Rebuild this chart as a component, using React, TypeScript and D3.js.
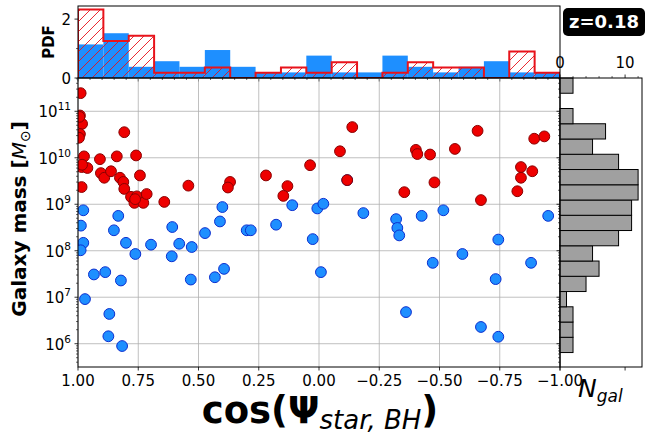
import React from "react";
import * as d3 from "d3";

// ---- data ----
const redCos = [0.989, 0.992, 0.983, 0.992, 0.996, 0.808, 0.975, 0.909, 0.839, 0.759, 0.985, 0.961, 0.905, 0.891, 0.863, 0.826, 0.812, 0.808, 0.743, 0.985, 0.780, 0.766, 0.756, 0.729, 0.715, 0.642, 0.542, 0.994, 0.983, 0.763, 0.369, 0.378, 0.220, 0.131, 0.148, 0.037, -0.138, -0.087, -0.117, -0.402, -0.408, -0.461, -0.354, -0.479, -0.564, -0.658, -0.672, -0.893, -0.935, -0.838, -0.885, -0.838, -0.823];
const redLogMass = [11.39, 10.91, 10.73, 10.51, 10.43, 10.55, 10.03, 9.97, 10.03, 10.05, 9.80, 9.78, 9.67, 9.57, 9.71, 9.57, 9.48, 9.33, 9.62, 9.37, 9.16, 9.03, 9.17, 9.03, 9.22, 9.05, 9.40, 10.88, 9.85, 9.11, 9.48, 9.36, 9.62, 9.39, 9.18, 9.84, 10.66, 10.14, 9.52, 10.17, 10.08, 10.07, 9.26, 9.47, 10.19, 10.58, 9.09, 10.41, 10.46, 9.80, 9.71, 9.57, 9.28];

const blueCos = [0.978, 0.833, 0.988, 0.851, 0.609, 0.978, 0.989, 0.801, 0.762, 0.697, 0.611, 0.580, 0.528, 0.934, 0.887, 0.822, 0.532, 0.971, 0.870, 0.874, 0.817, 0.401, 0.411, 0.473, 0.300, 0.283, 0.178, 0.111, 0.007, 0.026, 0.432, 0.394, -0.018, -0.184, -0.320, -0.325, -0.333, -0.426, -0.008, -0.472, -0.361, -0.516, -0.744, -0.951, -0.595, -0.880, -0.733, -0.672, -0.744, -0.117];
const blueLogMass = [8.87, 8.75, 8.54, 8.44, 8.51, 8.17, 8.01, 8.17, 7.93, 8.13, 7.88, 8.15, 8.08, 7.49, 7.54, 7.36, 7.38, 6.96, 6.64, 6.16, 5.95, 8.94, 8.63, 8.38, 8.44, 8.44, 8.56, 8.98, 8.91, 8.25, 7.43, 7.61, 9.01, 8.81, 8.68, 8.49, 8.33, 8.75, 7.54, 7.74, 6.68, 8.87, 8.24, 8.75, 7.93, 7.74, 7.39, 6.36, 6.15, 9.52];

// top histogram: counts per cos bin, from cos=1 (left) to cos=-1 (right)
const nCosBins = 19;
const blueCounts = [6, 8, 2, 3, 2, 5, 2, 1, 1, 4, 1, 1, 4, 2, 1, 2, 3, 1, 1];
const redCounts = [13, 7, 8, 1, 1, 2, 0, 1, 2, 1, 3, 0, 1, 3, 2, 2, 0, 5, 1];

// right histogram: N_gal per log-mass bin, from low mass to high mass
const massBinLo = 5.81;
const massBinHi = 11.716;
const nGalCounts = [2, 2, 2, 1, 4, 6, 5, 9, 11, 11, 12, 12, 9, 5, 7, 2, 0, 2];

const xTicks = [1, 0.75, 0.5, 0.25, 0, -0.25, -0.5, -0.75, -1];
const xTickLabels = ["1.00", "0.75", "0.50", "0.25", "0.00", "\u22120.25", "\u22120.50", "\u22120.75", "\u22121.00"];
const yTickExps = [6, 7, 8, 9, 10, 11];
const pdfTicks = [0, 2];
const nGalTicks = [0, 10];
const redshiftLabel = "z=0.18";

export default function App() {
  const W = 648, H = 432;
  const mL = 78, mR = 560, mT = 78, mB = 367;
  const tT = 6;
  const rR = 642;
  const font = "DejaVu Sans, sans-serif";

  const x = d3.scaleLinear().domain([1, -1]).range([mL, mR]);
  const y = d3.scaleLog().domain([Math.pow(10, 5.499), Math.pow(10, 11.716)]).range([mB, mT]);
  const yPdf = d3.scaleLinear().domain([0, 2.445]).range([mT, tT]);
  const xN = d3.scaleLinear().domain([0, 12.6]).range([mR, rR]);

  const binW = 2 / nCosBins;
  const edges = d3.range(nCosBins + 1).map((i) => 1 - i * binW);
  const nBlue = d3.sum(blueCounts);
  const nRed = d3.sum(redCounts);
  const blueDens = blueCounts.map((c) => c / (nBlue * binW));
  const redDens = redCounts.map((c) => c / (nRed * binW));

  let stepPts: [number, number][] = [[x(edges[0]), yPdf(0)]];
  redDens.forEach((d, i) => {
    stepPts.push([x(edges[i]), yPdf(d)]);
    stepPts.push([x(edges[i + 1]), yPdf(d)]);
  });
  stepPts.push([x(edges[nCosBins]), yPdf(0)]);
  const line = d3.line();
  const stepPath = line(stepPts) || "";

  const mStep = (massBinHi - massBinLo) / nGalCounts.length;

  const minorLog: number[] = [];
  for (let k = 5; k <= 11; k++) for (let m = 2; m <= 9; m++) {
    const v = m * Math.pow(10, k);
    const [a, b] = y.domain();
    if (v > a && v < b) minorLog.push(v);
  }
  const xMinor = d3.range(-1, 1.0001, 0.05).filter((v) => Math.abs(Math.round(v * 4) - v * 4) > 1e-6);
  const nMinor = [2, 4, 6, 8, 12];

  const tickStroke = { stroke: "black", strokeWidth: 0.8 };

  return (
    <svg width={W} height={H} style={{ position: "fixed", left: 0, top: 0, background: "white" }} fontFamily={font}>
      <defs>
        <clipPath id="mainClip"><rect x={mL} y={mT} width={mR - mL} height={mB - mT} /></clipPath>
        <clipPath id="topClip"><rect x={mL} y={tT} width={mR - mL} height={mT - tT} /></clipPath>
        <pattern id="hatch" patternUnits="userSpaceOnUse" width={10} height={10}>
          <path d="M-1,1 l2,-2 M0,10 l10,-10 M9,11 l2,-2" stroke="#e8131b" strokeWidth={0.9} />
        </pattern>
      </defs>
      <rect x={0} y={0} width={W} height={H} fill="white" />

      {/* ---------- top histogram ---------- */}
      <g clipPath="url(#topClip)">
        {blueDens.map((d, i) => (
          <rect key={"b" + i} x={x(edges[i])} y={yPdf(d)} width={x(edges[i + 1]) - x(edges[i])} height={yPdf(0) - yPdf(d)} fill="#1e8fff" />
        ))}
        <path d={stepPath + "Z"} fill="url(#hatch)" stroke="none" />
        <path d={stepPath} fill="none" stroke="#e8131b" strokeWidth={2} strokeLinejoin="miter" />
      </g>
      <rect x={mL} y={tT} width={mR - mL} height={mT - tT} fill="none" stroke="black" strokeWidth={1} />
      {pdfTicks.map((t) => (
        <g key={"pt" + t}>
          <line x1={mL - 3.5} x2={mL} y1={yPdf(t)} y2={yPdf(t)} {...tickStroke} />
          <text x={mL - 7} y={yPdf(t) + 5.5} fontSize={15} textAnchor="end">{t}</text>
        </g>
      ))}
      <line x1={mL - 2} x2={mL} y1={yPdf(1)} y2={yPdf(1)} stroke="black" strokeWidth={0.6} />
      {xMinor.map((v, i) => (
        <line key={"xm" + i} x1={x(v)} x2={x(v)} y1={mT} y2={mT + 2} stroke="black" strokeWidth={0.6} />
      ))}
      {xTicks.map((t) => (
        <line key={"xt" + t} x1={x(t)} x2={x(t)} y1={mT} y2={mT + 3.5} {...tickStroke} />
      ))}
      <text transform={`translate(54,${(tT + mT) / 2}) rotate(-90)`} fontSize={15} fontWeight="bold" textAnchor="middle">PDF</text>

      {/* ---------- main scatter ---------- */}
      {xTicks.map((t) => (
        <line key={"gx" + t} x1={x(t)} x2={x(t)} y1={mT} y2={mB} stroke="#b0b0b0" strokeWidth={0.8} />
      ))}
      {yTickExps.map((e) => (
        <line key={"gy" + e} x1={mL} x2={mR} y1={y(Math.pow(10, e))} y2={y(Math.pow(10, e))} stroke="#b0b0b0" strokeWidth={0.8} />
      ))}
      <g clipPath="url(#mainClip)">
        {blueCos.map((c, i) => (
          <circle key={"bc" + i} cx={x(c)} cy={y(Math.pow(10, blueLogMass[i]))} r={5.4} fill="#1e8fff" stroke="#0b2fd0" strokeWidth={1} />
        ))}
        {redCos.map((c, i) => (
          <circle key={"rc" + i} cx={x(c)} cy={y(Math.pow(10, redLogMass[i]))} r={5.4} fill="#ee0000" stroke="#8a0000" strokeWidth={1} />
        ))}
      </g>
      <rect x={mL} y={mT} width={mR - mL} height={mB - mT} fill="none" stroke="black" strokeWidth={1} />
      {xTicks.map((t, i) => (
        <g key={"xl" + t}>
          <line x1={x(t)} x2={x(t)} y1={mB} y2={mB + 3.5} {...tickStroke} />
          <text x={x(t)} y={mB + 19} fontSize={15} textAnchor="middle">{xTickLabels[i]}</text>
        </g>
      ))}
      {minorLog.map((v, i) => (
        <g key={"ym" + i}>
          <line x1={mL - 2} x2={mL} y1={y(v)} y2={y(v)} stroke="black" strokeWidth={0.6} />
          <line x1={mR - 2} x2={mR} y1={y(v)} y2={y(v)} stroke="black" strokeWidth={0.6} />
        </g>
      ))}
      {yTickExps.map((e) => (
        <g key={"yl" + e}>
          <line x1={mL - 3.5} x2={mL} y1={y(Math.pow(10, e))} y2={y(Math.pow(10, e))} {...tickStroke} />
          <line x1={mR - 3.5} x2={mR} y1={y(Math.pow(10, e))} y2={y(Math.pow(10, e))} {...tickStroke} />
          <text x={mL - 7} y={y(Math.pow(10, e)) + 6} fontSize={15} textAnchor="end">
            10<tspan fontSize={10.5} dy={-7}>{e}</tspan>
          </text>
        </g>
      ))}
      <text transform={`translate(26,219) rotate(-90)`} fontSize={20} fontWeight="bold" textAnchor="middle">
        Galaxy mass [<tspan fontStyle="italic" fontWeight="normal">M</tspan><tspan fontSize={14} fontWeight="normal" dy={4}>{"\u2299"}</tspan><tspan dy={-4}>]</tspan>
      </text>
      <text x={320} y={423} fontSize={37} fontWeight="bold" textAnchor="middle">
        cos(Ψ<tspan fontSize={26} fontStyle="italic" fontWeight="normal" dy={6}>star, BH</tspan><tspan dy={-6}>)</tspan>
      </text>

      {/* ---------- right histogram ---------- */}
      {nGalCounts.map((c, i) => {
        if (c === 0) return null;
        const lo = massBinLo + i * mStep;
        const hi = lo + mStep;
        return (
          <rect key={"ng" + i} x={xN(0)} y={y(Math.pow(10, hi))} width={xN(c) - xN(0)} height={y(Math.pow(10, lo)) - y(Math.pow(10, hi))} fill="#a0a0a0" stroke="black" strokeWidth={1} />
        );
      })}
      <rect x={mR} y={mT} width={rR - mR} height={mB - mT} fill="none" stroke="black" strokeWidth={1} />
      {nMinor.map((v) => (
        <line key={"nm" + v} x1={xN(v)} x2={xN(v)} y1={mT} y2={mT - 2} stroke="black" strokeWidth={0.6} />
      ))}
      {nGalTicks.map((t) => (
        <g key={"nt" + t}>
          <line x1={xN(t)} x2={xN(t)} y1={mT} y2={mT - 3.5} {...tickStroke} />
          <line x1={xN(t)} x2={xN(t)} y1={mB} y2={mB + 3.5} {...tickStroke} />
          <text x={xN(t)} y={68} fontSize={15} textAnchor="middle">{t}</text>
        </g>
      ))}
      <text x={578} y={397} fontSize={25} fontStyle="italic">
        N<tspan fontSize={17} dy={5}>gal</tspan>
      </text>

      {/* ---------- redshift box ---------- */}
      <rect x={563} y={8} width={82} height={28} rx={5} fill="black" />
      <text x={604} y={28} fontSize={18} fontWeight="bold" fill="white" textAnchor="middle">{redshiftLabel}</text>
    </svg>
  );
}
